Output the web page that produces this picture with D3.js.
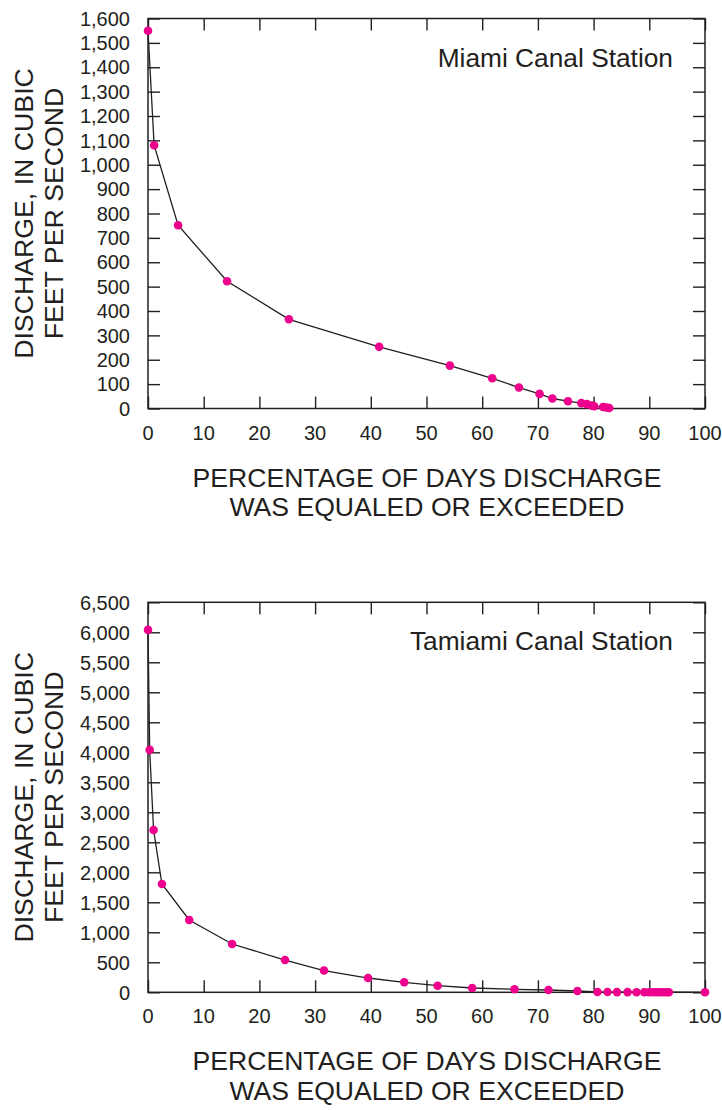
<!DOCTYPE html>
<html>
<head>
<meta charset="utf-8">
<script src="https://cdn.jsdelivr.net/npm/d3@7"></script>
<style>
  html, body { margin: 0; padding: 0; background: #fff; }
  svg { display: block; font-family: "Liberation Sans", Arial, Helvetica, sans-serif; }
</style>
</head>
<body>
<svg id="chart" width="722" height="1110"></svg>
<script>
// Flow-duration data, Miami Canal station
const miamiPercent = [0, 1.1, 5.4, 14.2, 25.3, 41.5, 54.2, 61.8, 66.6, 70.3, 72.6, 75.4, 77.8, 78.8, 79.7, 80.1, 81.7, 82.3, 82.8];
const miamiDischarge = [1550, 1080, 752, 522, 366, 253, 176, 124, 86, 60, 41, 30, 22, 18, 12, 9, 6, 4, 2];

// Flow-duration data, Tamiami Canal station
const tamiamiPercent = [0, 0.3, 1.0, 2.5, 7.4, 15.1, 24.6, 31.6, 39.5, 46.0, 52.0, 58.2, 65.8, 71.9, 77.1, 80.7, 82.5, 84.2, 86.1, 87.7, 89.1, 89.9, 90.6, 91.2, 91.8, 92.4, 93.0, 93.5, 100];
const tamiamiDischarge = [6040, 4040, 2705, 1805, 1205, 805, 538, 363, 238, 167, 110, 72, 50, 38, 22, 5, 4, 3, 3, 2, 2, 2, 1, 1, 1, 1, 1, 1, 0];

// Axis ticks
const percentTicks = [0, 10, 20, 30, 40, 50, 60, 70, 80, 90, 100];
const miamiTicks = d3.range(0, 1601, 100);
const tamiamiTicks = d3.range(0, 6501, 500);

const stationNames = ["Miami Canal Station", "Tamiami Canal Station"];
const yTitle = ["DISCHARGE, IN CUBIC", "FEET PER SECOND"];
const xTitle = ["PERCENTAGE OF DAYS DISCHARGE", "WAS EQUALED OR EXCEEDED"];

const ink = "#231f20";
const dotColor = "#ec008c";
const svg = d3.select("#chart");
const fmt = d3.format(",");

function drawPanel(top, xs, ys, yTicks, yMax, name) {
  const left = 148, right = 705, height = 390;
  const bottom = top + height;
  const x = d3.scaleLinear().domain([0, 100]).range([left, right]);
  const y = d3.scaleLinear().domain([0, yMax]).range([bottom, top]);
  const g = svg.append("g");
  const tickLen = 12;

  // Inward ticks on all four sides
  g.append("g").attr("transform", `translate(0,${bottom})`)
    .call(d3.axisTop(x).tickValues(percentTicks).tickSize(tickLen).tickFormat(""))
    .call(a => a.select(".domain").remove());
  g.append("g").attr("transform", `translate(0,${top})`)
    .call(d3.axisBottom(x).tickValues(percentTicks).tickSize(tickLen).tickFormat(""))
    .call(a => a.select(".domain").remove());
  g.append("g").attr("transform", `translate(${left},0)`)
    .call(d3.axisRight(y).tickValues(yTicks).tickSize(tickLen).tickFormat(""))
    .call(a => a.select(".domain").remove());
  g.append("g").attr("transform", `translate(${right},0)`)
    .call(d3.axisLeft(y).tickValues(yTicks).tickSize(tickLen).tickFormat(""))
    .call(a => a.select(".domain").remove());
  g.selectAll(".tick line").attr("stroke", ink).attr("stroke-width", 1.4);

  // Tick labels
  g.append("g").selectAll("text").data(percentTicks).join("text")
    .attr("x", d => x(d)).attr("y", bottom + 31)
    .attr("text-anchor", "middle").attr("font-size", 20).attr("fill", ink)
    .text(d => d);
  g.append("g").selectAll("text").data(yTicks).join("text")
    .attr("x", 130).attr("y", d => y(d)).attr("dy", "0.36em")
    .attr("text-anchor", "end").attr("font-size", 20).attr("fill", ink)
    .text(d => fmt(d));

  // Frame
  g.append("rect").attr("x", left).attr("y", top)
    .attr("width", right - left).attr("height", height)
    .attr("fill", "none").attr("stroke", ink).attr("stroke-width", 1.5);

  // Duration curve
  const pts = xs.map((p, i) => [p, ys[i]]);
  g.append("path").datum(pts)
    .attr("d", d3.line().x(d => x(d[0])).y(d => y(d[1])))
    .attr("fill", "none").attr("stroke", ink).attr("stroke-width", 1.3);
  g.append("g").selectAll("circle").data(pts).join("circle")
    .attr("cx", d => x(d[0])).attr("cy", d => y(d[1])).attr("r", 4.3)
    .attr("fill", dotColor);

  // Station name
  g.append("text").attr("x", 673).attr("y", top + 48)
    .attr("text-anchor", "end").attr("font-size", 26.3).attr("fill", ink)
    .text(name);

  // Axis titles
  const midY = (top + bottom) / 2;
  yTitle.forEach((t, i) => {
    g.append("text")
      .attr("transform", `translate(${33 + i * 30},${midY}) rotate(-90)`)
      .attr("text-anchor", "middle").attr("font-size", 26.7).attr("fill", ink)
      .text(t);
  });
  xTitle.forEach((t, i) => {
    g.append("text").attr("x", 427).attr("y", bottom + 78 + i * 29.5)
      .attr("text-anchor", "middle").attr("font-size", 26.6).attr("fill", ink)
      .text(t);
  });
}

drawPanel(18.5, miamiPercent, miamiDischarge, miamiTicks, 1600, stationNames[0]);
drawPanel(602.3, tamiamiPercent, tamiamiDischarge, tamiamiTicks, 6500, stationNames[1]);
</script>
</body>
</html>
